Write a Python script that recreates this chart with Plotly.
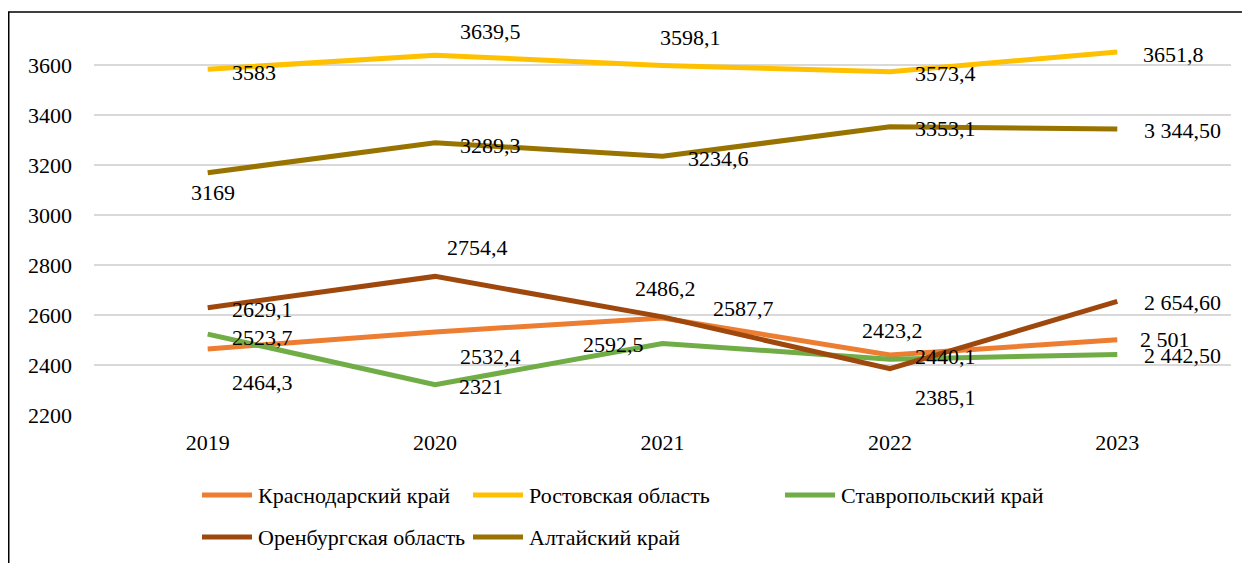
import plotly.graph_objects as go

# Years on the category axis
years = ["2019", "2020", "2021", "2022", "2023"]

# Series values
krasnodar = [2464.3, 2532.4, 2587.7, 2440.1, 2501.0]
rostov = [3583.0, 3639.5, 3598.1, 3573.4, 3651.8]
stavropol = [2523.7, 2321.0, 2486.2, 2423.2, 2442.5]
orenburg = [2629.1, 2754.4, 2592.5, 2385.1, 2654.6]
altai = [3169.0, 3289.3, 3234.6, 3353.1, 3344.5]

# Data labels as printed on the chart (formatting is not uniform in the source)
krasnodar_lbl = ["2464,3", "2532,4", "2587,7", "2440,1", "2 501"]
rostov_lbl = ["3583", "3639,5", "3598,1", "3573,4", "3651,8"]
stavropol_lbl = ["2523,7", "2321", "2486,2", "2423,2", "2 442,50"]
orenburg_lbl = ["2629,1", "2754,4", "2592,5", "2385,1", "2 654,60"]
altai_lbl = ["3169", "3289,3", "3234,6", "3353,1", "3 344,50"]

y_ticks = [2200, 2400, 2600, 2800, 3000, 3200, 3400, 3600]

FONT = "Liberation Serif, Times New Roman, serif"
FS = 22

# the page has an 8px body margin, so the figure is drawn 8px in from the corner
OFF = 8
W, H = 1250 - OFF, 563 - OFF
# plot area (page pixels: x 94..1231, y 40..415)
L, R, T, B = 94 - OFF, W - (1231 - OFF), 40 - OFF, H - (415 - OFF)
PW, PH = W - L - R, H - T - B


def px(x, y):
    # page pixel -> paper coords
    return (x - OFF - L) / PW, (H - B - (y - OFF)) / PH


series = [
    # name, values, labels, colour, label offsets (dx, dy px, text centre), legend slot
    ("Краснодарский край", krasnodar, krasnodar_lbl, "#ED7D31",
     [(55, 34), (55, 25), (81, -10), (56, 2), (48, 0)], (202, 495)),
    ("Ростовская область", rostov, rostov_lbl, "#FFC000",
     [(46, 3), (55, -24), (28, -28), (56, 2), (56, 2)], (473, 495)),
    ("Ставропольский край", stavropol, stavropol_lbl, "#70AD47",
     [(55, 3), (46, 2), (3, -55), (3, -29), (65, 1)], (785, 495)),
    ("Оренбургская область", orenburg, orenburg_lbl, "#9E480E",
     [(55, 2), (42, -29), (-49, 28), (56, 29), (65, 1)], (202, 537)),
    ("Алтайский край", altai, altai_lbl, "#997300",
     [(5, 20), (55, 3), (56, 2), (56, 2), (65, 2)], (473, 537)),
]

fig = go.Figure()
annotations = []
shapes = []

for name, vals, lbls, col, offs, (lx, ly) in series:
    fig.add_trace(
        go.Scatter(
            x=years,
            y=vals,
            mode="lines",
            name=name,
            line=dict(color=col, width=5),
            showlegend=False,
        )
    )
    for i, (v, t, (dx, dy)) in enumerate(zip(vals, lbls, offs)):
        annotations.append(
            dict(x=i, y=v, xref="x", yref="y", text=t, showarrow=False,
                 xshift=dx, yshift=-dy, font=dict(family=FONT, size=FS, color="black"))
        )
    # legend entry drawn by hand (Excel-style long swatch)
    x0, y0 = px(lx, ly)
    x1, _ = px(lx + 50, ly)
    shapes.append(dict(type="line", xref="paper", yref="paper", x0=x0, x1=x1, y0=y0, y1=y0,
                       line=dict(color=col, width=5)))
    tx, _ = px(lx + 54, ly)
    annotations.append(
        dict(x=tx, y=y0, xref="paper", yref="paper", text=name, showarrow=False,
             xanchor="left", yanchor="middle", font=dict(family=FONT, size=FS, color="black"))
    )

# outer frame (left and top edges visible in the source)
fa = px(8.75, 563)
fb = px(8.75, 12)
fc = px(1250, 12)
shapes.append(dict(type="path", xref="paper", yref="paper",
                   path=f"M {fa[0]},{fa[1]} L {fb[0]},{fb[1]} L {fc[0]},{fc[1]}",
                   line=dict(color="black", width=1.5)))

fig.update_layout(
    width=W,
    height=H,
    margin=dict(l=L, r=R, t=T, b=B),
    paper_bgcolor="white",
    plot_bgcolor="white",
    font=dict(family=FONT, size=FS, color="black"),
    annotations=annotations,
    shapes=shapes,
    xaxis=dict(
        type="category",
        range=[-0.5, 4.5],
        showgrid=False,
        showline=False,
        zeroline=False,
        ticks="",
        ticklabelstandoff=12,
        tickfont=dict(family=FONT, size=FS, color="black"),
    ),
    yaxis=dict(
        range=[2200, 3700],
        tickvals=y_ticks,
        showgrid=True,
        gridcolor="#D9D9D9",
        gridwidth=1.5,
        zeroline=False,
        showline=False,
        ticks="",
        ticklabelstandoff=21,
        tickfont=dict(family=FONT, size=FS, color="black"),
    ),
)

fig.write_html("out.html")
